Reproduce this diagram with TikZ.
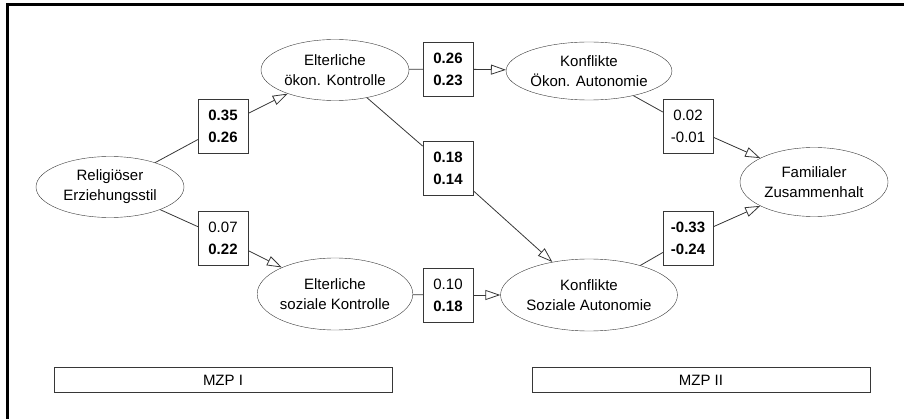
\documentclass[tikz,border=0pt]{standalone}
\usepackage{fontspec}
\setmainfont{Liberation Sans}
\usetikzlibrary{arrows.meta, shapes.geometric}
\definecolor{linegray}{RGB}{55,55,55}

\begin{document}
\begin{tikzpicture}[x=1pt, y=-1pt,
  latent/.style={ellipse, draw=linegray, minimum width=148pt, inner sep=0pt, align=center, font=\fontsize{15}{20}\selectfont},
  coef/.style={rectangle, draw=linegray, minimum width=50pt, minimum height=54pt, inner sep=0pt, align=center, font=\fontsize{15}{22}\selectfont},
  wave/.style={rectangle, draw=linegray, minimum width=338pt, minimum height=25pt, inner sep=0pt, font=\fontsize{15}{18}\selectfont},
  link/.style={draw=linegray, line width=0.8pt},
  arrow/.style={link, -{Triangle[length=15pt, width=10pt, fill=white]}},
]
  \useasboundingbox (0,0) rectangle (904,419);
  \draw[line width=3pt] (7,419) -- (7,5) -- (904,5);

  % latent variables
  \node[latent, minimum height=61pt] (rel) at (110,187) {Religiöser\\Erziehungsstil};
  \node[latent, minimum height=61pt] (oek) at (335,70) {Elterliche\\ökon. Kontrolle};
  \node[latent, minimum height=72pt] (soz) at (335,294) {Elterliche\\soziale Kontrolle};
  \node[latent, minimum height=58pt] (koa) at (589,71) {Konflikte\\Ökon. Autonomie};
  \node[latent, minimum width=162pt, minimum height=72pt] (ksa) at (589,295) {Konflikte\\Soziale Autonomie};
  \node[latent, minimum height=69pt] (fam) at (814,182) {Familialer\\Zusammenhalt};

  % path coefficients
  \node[coef] (b1) at (223,126) {\textbf{0.35}\\\textbf{0.26}};
  \node[coef] (b2) at (223,238) {0.07\\\textbf{0.22}};
  \node[coef] (b3) at (448,69) {\textbf{0.26}\\\textbf{0.23}};
  \node[coef] (b4) at (448,168) {\textbf{0.18}\\\textbf{0.14}};
  \node[coef] (b5) at (448,295) {0.10\\\textbf{0.18}};
  \node[coef] (b6) at (688,126) {0.02\\-0.01};
  \node[coef] (b7) at (688,238) {\textbf{-0.33}\\\textbf{-0.24}};

  % measurement occasions
  \node[wave] (mzp1) at (223,380) {MZP I};
  \node[wave] (mzp2) at (701,380) {MZP II};

  \draw[link] (rel) -- (b1);
  \draw[arrow] (b1) -- (oek);
  \draw[link] (rel) -- (b2);
  \draw[arrow] (b2) -- (soz);
  \draw[link] (oek) -- (b3);
  \draw[arrow] (b3) -- (koa);
  \draw[link] (oek) -- (b4);
  \draw[arrow] (b4) -- (ksa);
  \draw[link] (soz) -- (b5);
  \draw[arrow] (b5) -- (ksa);
  \draw[link] (koa) -- (b6);
  \draw[arrow] (b6) -- (fam);
  \draw[link] (ksa) -- (b7);
  \draw[arrow] (b7) -- (fam);
\end{tikzpicture}
\end{document}
